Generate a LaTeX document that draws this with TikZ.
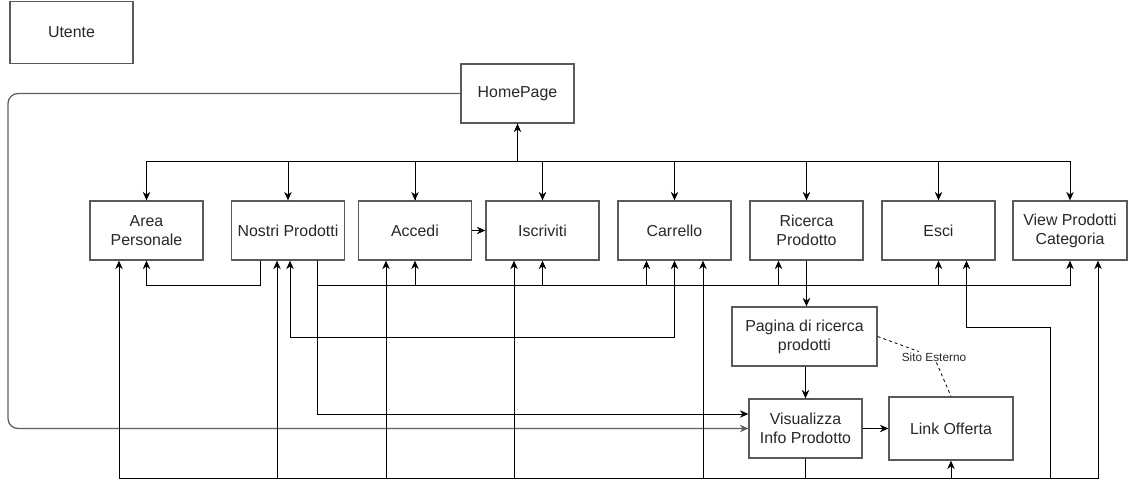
\documentclass[tikz,border=0pt]{standalone}
\usepackage{fontspec}
\setmainfont{Liberation Sans}
\usetikzlibrary{arrows.meta}
\definecolor{boxc}{RGB}{90,90,90}
\definecolor{linec}{RGB}{95,95,95}
\definecolor{txtc}{RGB}{40,40,40}
\begin{document}
\begin{tikzpicture}[x=1pt,y=-1pt,
  box/.style={draw=boxc, line width=1.3pt, fill=white, minimum width=113pt, minimum height=59pt,
    inner sep=2pt, align=center, font=\fontsize{15.9}{19}\selectfont, text=txtc},
  arr/.style={draw=black, line width=1pt, -{Stealth[length=8.5pt,width=7.5pt]}},
  arrb/.style={draw=black, line width=1pt, {Stealth[length=8.5pt,width=7.5pt]}-{Stealth[length=8.5pt,width=7.5pt]}},
  dashline/.style={draw=black, line width=0.8pt, dash pattern=on 3pt off 3pt},
  lbl/.style={font=\fontsize{11.8}{14}\selectfont, inner sep=1pt, text=txtc}]
\useasboundingbox (0,0) rectangle (1128,488);

% nodes
\node[box, minimum width=123pt, minimum height=62pt] (ut) at (71.5,32.5) {Utente};
\node[box] (hp) at (517.5,93.5) {HomePage};
\node[box] (ap) at (146.5,230.5) {Area\\Personale};
\node[box] (np) at (288,230.5) {Nostri Prodotti};
\node[box] (acc) at (415,230.5) {Accedi};
\node[box] (isc) at (542.5,230.5) {Iscriviti};
\node[box] (car) at (674.5,230.5) {Carrello};
\node[box] (ric) at (806.5,230.5) {Ricerca\\Prodotto};
\node[box] (esc) at (938.5,230.5) {Esci};
\node[box, minimum width=114pt] (vpc) at (1070,230.5) {View Prodotti\\Categoria};
\node[box, minimum width=145pt] (pag) at (804.5,336.5) {Pagina di ricerca\\prodotti};
\node[box] (vis) at (805.5,428.5) {Visualizza\\Info Prodotto};
\node[box, minimum width=124pt, minimum height=63pt] (lo) at (951,428.5) {Link Offerta};
\node[lbl] (sito) at (934,357) {Sito Esterno};

% helper coordinates
\coordinate (b1) at (0,161);
\coordinate (b2) at (0,285);
\coordinate (b3) at (0,337);
\coordinate (bb) at (0,478);
\coordinate (lft) at (8,0);
\coordinate (npL) at ([xshift=-28pt]np.south);
\coordinate (npR) at ([xshift=29pt]np.south);
\coordinate (npC) at ([xshift=2pt]np.south);
\coordinate (vb) at (vis.south |- bb);
\coordinate (ex1) at (1050,478);
\coordinate (ex2) at (1050,327);

% HomePage to the row of pages
\foreach \tg in {ap,np,acc,isc,car,ric,esc,vpc}
  \draw[arr] (hp.south) -- (hp.south |- b1) -| (\tg.north);
\draw[arr] (acc.north) |- (hp.south |- b1) -- (hp.south);

% Accedi -> Iscriviti
\draw[arr] (acc) -- (isc);

% Nostri Prodotti -> Area Personale
\draw[arr] (npL) -- (npL |- b2) -| (ap.south);

% Nostri Prodotti -> bus at y=285
\foreach \tg/\dx in {acc/0,isc/0,car/-28,ric/-28,esc/0,vpc/0}
  \draw[arr] (npR) -- (npR |- b2) -| ([xshift=\dx pt]\tg.south);

% Nostri Prodotti -> Visualizza
\draw[arr] (npR) |- ([yshift=14.5pt]vis.west);

% Carrello <-> Nostri Prodotti
\draw[arrb] (car.south) -- (car.south |- b3) -| (npC);

% HomePage -> Visualizza
\draw[arr, draw=linec, line width=1.3pt, rounded corners=10pt] (hp.west) -| (lft |- vis.west) -- (vis.west);

% search flow
\draw[arr] (ric.south) -- (ric.south |- pag.north);
\draw[arr] (vis.north |- pag.south) -- (vis.north);
\draw[arr] (vis.east) -- (lo.west);

% bottom bus from Visualizza
\foreach \tg/\dx in {ap/-27.5,np/-11,acc/-29,isc/-28.5,car/28.5,lo/0,vpc/28}
  \draw[arr] (vis.south) -- (vb) -| ([xshift=\dx pt]\tg.south);
\draw[arr] (vis.south) -- (vb) -- (ex1) -- (ex2) -| ([xshift=28pt]esc.south);

% external site
\draw[dashline] (pag.east) -- (sito) -- (lo.north);
\end{tikzpicture}
\end{document}
